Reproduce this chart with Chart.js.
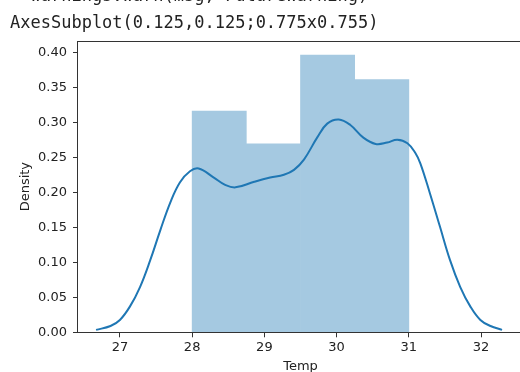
<!DOCTYPE html>
<html>
<head>
<meta charset="utf-8">
<script src="https://cdn.jsdelivr.net/npm/chart.js@4.4.1/dist/chart.umd.min.js"></script>
<style>
  html, body { margin: 0; padding: 0; background: #fff; overflow: hidden; }
  #wrap { position: absolute; left: 0; top: 0; }
  #out {
    position: absolute; left: 10px; top: -18px; margin: 0;
    font: 17px/27px "DejaVu Sans Mono", monospace; color: #222; white-space: pre;
  }
</style>
</head>
<body>
<div id="wrap"><canvas id="tempChart" width="540" height="380"></canvas></div>
<pre id="out">  warnings.warn(msg, FutureWarning)
AxesSubplot(0.125,0.125;0.775x0.755)</pre>
<script>
// histogram of Temp: bin edges and density per bin
const binEdges = [28, 28.75, 29.5, 30.25, 31];
const binDensity = [0.316, 0.269, 0.396, 0.361];

// kde curve sampled along Temp
const kdeX = [26.67, 26.87, 27.0, 27.14, 27.28, 27.42, 27.56, 27.7, 27.83, 27.97,
  28.09, 28.3, 28.45, 28.6, 28.86, 29.08, 29.27, 29.41, 29.55, 29.73,
  29.87, 30.03, 30.19, 30.37, 30.54, 30.7, 30.84, 30.98, 31.09, 31.16,
  31.29, 31.43, 31.57, 31.71, 31.85, 31.99, 32.13, 32.29];
const kdeY = [0.0035, 0.009, 0.0176, 0.037, 0.065, 0.103, 0.146, 0.186, 0.214, 0.23,
  0.234, 0.221, 0.211, 0.207, 0.215, 0.221, 0.225, 0.232, 0.247, 0.278,
  0.298, 0.304, 0.296, 0.278, 0.269, 0.271, 0.275, 0.27, 0.256, 0.241,
  0.199, 0.151, 0.103, 0.065, 0.037, 0.0176, 0.009, 0.0035];

const xTicks = [27, 28, 29, 30, 31, 32];
const yTicks = [0, 0.05, 0.1, 0.15, 0.2, 0.25, 0.3, 0.35, 0.4];

const histData = binDensity.map((d, i) => ({ x: (binEdges[i] + binEdges[i + 1]) / 2, y: d }));
const kdeData = kdeX.map((x, i) => ({ x: x, y: kdeY[i] }));

const ink = "#222";
const spine = "#333";
const font = { family: "DejaVu Sans", size: 13 };

// full box around the plot area, like matplotlib spines
const frame = {
  id: "frame",
  afterDatasetsDraw(chart) {
    const { ctx, chartArea: a } = chart;
    ctx.save();
    ctx.strokeStyle = spine;
    ctx.lineWidth = 1;
    ctx.strokeRect(Math.round(a.left) - 0.5, Math.round(a.top) + 0.5,
      Math.round(a.right - a.left), Math.round(a.bottom - a.top));
    ctx.restore();
  },
};

new Chart(document.getElementById("tempChart"), {
  type: "bar",
  data: {
    datasets: [
      {
        type: "line",
        data: kdeData,
        borderColor: "#1f77b4",
        borderWidth: 2,
        pointRadius: 0,
        tension: 0.4,
        fill: false,
        order: 0,
      },
      {
        type: "bar",
        data: histData,
        backgroundColor: "#a5c9e1",
        borderWidth: 0,
        barPercentage: 1,
        categoryPercentage: 1,
        order: 1,
      },
    ],
  },
  options: {
    responsive: false,
    animation: false,
    layout: { padding: { top: 41, right: 17, left: 0, bottom: 0 } },
    plugins: {
      legend: { display: false },
      tooltip: { enabled: false },
    },
    scales: {
      x: {
        type: "linear",
        min: 26.42,
        max: 32.58,
        offset: false,
        afterBuildTicks: (scale) => {
          scale.ticks = xTicks.map((v) => ({ value: v }));
        },
        afterFit: (scale) => {
          scale.height = 47.7;
        },
        border: { display: false },
        grid: { offset: false, drawOnChartArea: false, drawTicks: true, tickLength: 5, color: spine },
        ticks: { color: ink, font: font, padding: 3, maxRotation: 0, callback: (v) => String(v) },
        title: { display: true, text: "Temp", color: ink, font: font, padding: { top: 0, bottom: 5.5 } },
      },
      y: {
        min: 0,
        max: 0.416,
        afterBuildTicks: (scale) => {
          scale.ticks = yTicks.map((v) => ({ value: v }));
        },
        afterFit: (scale) => {
          scale.width = 78;
        },
        border: { display: false },
        grid: { drawOnChartArea: false, drawTicks: true, tickLength: 5, color: spine },
        ticks: { color: ink, font: font, padding: 6, callback: (v) => v.toFixed(2) },
        title: { display: true, text: "Density", color: ink, font: font, padding: { top: 18, bottom: 0 } },
      },
    },
  },
  plugins: [frame],
});
</script>
</body>
</html>
